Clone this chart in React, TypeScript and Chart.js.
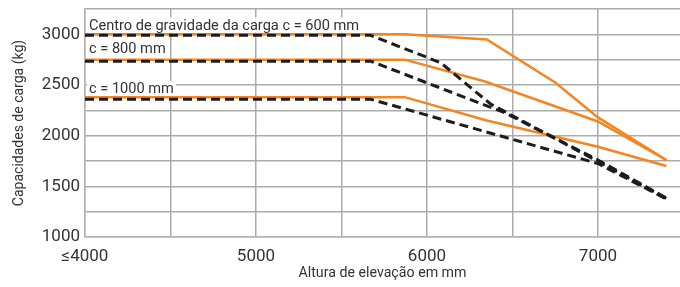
import React, { useEffect, useRef } from "react";
import { Chart, registerables } from "chart.js";

Chart.register(...registerables);

// Axis ticks
const xTickValues = [4000, 4500, 5000, 5500, 6000, 6500, 7000];
const xTickLabels = ["≤4000", "", "5000", "", "6000", "", "7000"];
const yTickLabelsEvery = 500;

// Series: orange (solid) lines
const orange600X = [4000, 5870, 6350, 6750, 7000, 7400];
const orange600Y = [3000, 3000, 2950, 2525, 2180, 1760];
const orange800X = [4000, 5870, 6340, 7000, 7400];
const orange800Y = [2750, 2750, 2535, 2140, 1760];
const orange1000X = [4000, 5870, 6350, 7000, 7400];
const orange1000Y = [2380, 2380, 2150, 1890, 1700];

// Series: black dashed lines
const dash600X = [4000, 5670, 6080, 6370, 7000, 7400];
const dash600Y = [2990, 2990, 2720, 2315, 1745, 1380];
const dash800X = [4000, 5670, 6450, 7000, 7400];
const dash800Y = [2735, 2735, 2230, 1760, 1385];
const dash1000X = [4000, 5670, 7000, 7400];
const dash1000Y = [2360, 2360, 1725, 1375];

// Text labels in chart
const seriesLabels = ["Centro de gravidade da carga c = 600 mm", "c = 800 mm", "c = 1000 mm"];
const xTitle = "Altura de elevação em mm";
const yTitle = "Capacidades de carga (kg)";

const toPoints = (xs: number[], ys: number[]) => xs.map((x, i) => ({ x, y: ys[i] }));

const ORANGE = "#f38620";
const BLACK = "#1c1c1c";
const FONT = "Roboto";

export default function App() {
  const ref = useRef<HTMLCanvasElement | null>(null);

  useEffect(() => {
    document.body.style.margin = "0";
    const canvas = ref.current;
    if (!canvas) return;

    const labelPlugin = {
      id: "seriesLabels",
      beforeDatasetsDraw(chart: any) {
        const { ctx, chartArea } = chart;
        const baselines = [29.5, 53.3, 93.3];
        ctx.save();
        ctx.font = `14.6px ${FONT}`;
        ctx.textBaseline = "alphabetic";
        ctx.textAlign = "left";
        seriesLabels.forEach((t, i) => {
          const x = chartArea.left + 4;
          const b = baselines[i];
          const w = ctx.measureText(t).width;
          ctx.fillStyle = "#ffffff";
          ctx.fillRect(x - 2, b - 12, w + 4, 15);
          ctx.fillStyle = "#333333";
          ctx.fillText(t, x, b);
        });
        ctx.restore();
      },
    };

    const dashed = (xs: number[], ys: number[]) => ({
      data: toPoints(xs, ys),
      borderColor: BLACK,
      borderWidth: 3,
      borderDash: [9, 5],
      borderCapStyle: "butt",
      pointRadius: 0,
      tension: 0,
      fill: false,
    });
    const solid = (xs: number[], ys: number[]) => ({
      data: toPoints(xs, ys),
      borderColor: ORANGE,
      borderWidth: 2.5,
      pointRadius: 0,
      tension: 0,
      fill: false,
    });

    const chart = new Chart(canvas, {
      type: "line",
      data: {
        datasets: [
          dashed(dash600X, dash600Y),
          dashed(dash800X, dash800Y),
          dashed(dash1000X, dash1000Y),
          solid(orange600X, orange600Y),
          solid(orange800X, orange800Y),
          solid(orange1000X, orange1000Y),
        ] as any,
      },
      options: {
        animation: false,
        responsive: false,
        maintainAspectRatio: false,
        layout: { padding: { top: 9, left: 0, right: 0, bottom: 0 } },
        plugins: { legend: { display: false }, tooltip: { enabled: false } },
        scales: {
          x: {
            type: "linear",
            min: 4000,
            max: 7480,
            afterBuildTicks: (s: any) => {
              s.ticks = xTickValues.map((v) => ({ value: v }));
            },
            afterFit: (s: any) => {
              s.height = 50;
              s.paddingLeft = 0;
              s.paddingRight = 0;
            },
            ticks: {
              autoSkip: false,
              maxRotation: 0,
              padding: 10,
              color: "#333333",
              font: { family: FONT, size: 17 },
              callback: (v: any) => {
                const i = xTickValues.indexOf(Number(v));
                return i >= 0 ? xTickLabels[i] : "";
              },
            },
            grid: { color: "#ababab", lineWidth: 1.5, drawTicks: false },
            border: { display: true, color: "#b5b5b5", width: 1.5 },
            title: {
              display: true,
              text: xTitle,
              color: "#333333",
              font: { family: FONT, size: 14.2 },
              padding: { top: 0, bottom: 5 },
            },
          },
          y: {
            type: "linear",
            min: 1000,
            max: 3250,
            afterFit: (s: any) => {
              s.width = 85;
              s.paddingTop = 0;
              s.paddingBottom = 0;
            },
            ticks: {
              stepSize: 250,
              padding: 5,
              color: "#333333",
              font: { family: FONT, size: 17 },
              callback: (v: any) => (Number(v) % yTickLabelsEvery === 0 ? String(v) : ""),
            },
            grid: { color: "#ababab", lineWidth: 1.5, drawTicks: false },
            border: { display: true, color: "#b5b5b5", width: 1.5 },
            title: {
              display: true,
              text: yTitle,
              color: "#333333",
              font: { family: FONT, size: 14 },
              padding: { top: 11, bottom: 0 },
            },
          },
        },
      },
      plugins: [labelPlugin],
    });

    return () => chart.destroy();
  }, []);

  return (
    <div style={{ position: "absolute", left: 0, top: 0, width: 680, height: 287 }}>
      <canvas ref={ref} width={680} height={287} style={{ display: "block" }} />
    </div>
  );
}
